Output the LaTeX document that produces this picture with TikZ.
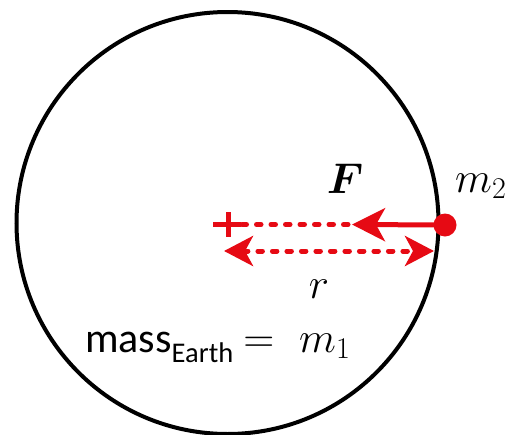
\RequirePackage{fix-cm}
\documentclass[tikz,border=0pt]{standalone}
\usepackage{bm}
\usepackage{fontspec}
\setmainfont{Carlito}
\usetikzlibrary{arrows.meta,calc}
\definecolor{fred}{RGB}{230,10,20}
\tikzset{
  redsolid/.style={draw=fred, line width=5pt},
  reddash/.style={draw=fred, line width=5pt, line cap=round, dash pattern=on 4.5pt off 10pt},
  bighead/.style={-{Stealth[length=33pt,width=33pt,inset=9pt]}},
  rhead/.style={{Stealth[length=29pt,width=30pt,inset=8pt]}-{Stealth[length=29pt,width=30pt,inset=8pt]}},
  mathlbl/.style={font=\fontsize{43}{50}\selectfont, inner sep=0pt},
}
\begin{document}
\begin{tikzpicture}[x=1pt,y=-1pt]
\useasboundingbox (0,0) rectangle (509,434);
% Earth
\coordinate (c) at (227.5,223);
\node[draw=black, circle, line width=4pt, minimum size=422pt, inner sep=0pt] (earth) at (c) {};
% centre plus
\coordinate (ctr) at (228,224);
\draw[fred, line width=5pt] ($(ctr)+(-15,0)$) -- ($(ctr)+(13,0)$);
\draw[fred, line width=5pt] ($(ctr)+(0,-12)$) -- ($(ctr)+(0,13)$);
% m2 dot
\node[circle, fill=fred, minimum size=23pt, inner sep=0pt] (m2) at (445,225) {};
% F arrow
\coordinate (ftip) at (352,224.5);
\coordinate (fstart) at (242,224.5);
\draw[reddash] (fstart) -- (ftip);
\draw[redsolid, bighead] (m2.center) -- (ftip);
% r arrow
\coordinate (rl) at (224,251);
\coordinate (rr) at (434,251);
\draw[reddash, rhead] (rl) -- (rr);
% labels
\node[mathlbl] (Flbl) at (345,179) {$\bm{F}$};
\node[mathlbl, anchor=base west] (m2lbl) at (455,192) {$m_2$};
\node[mathlbl, anchor=base] (rlbl) at (319,298) {$r$};
\node[mathlbl, anchor=base west] (mass) at (85,352) {{\fontsize{42}{50}\selectfont mass}\raisebox{-10pt}{\fontsize{28.5}{32}\selectfont Earth}\hspace{10pt}$=$\hspace{25pt}$m_1$};
\end{tikzpicture}
\end{document}
